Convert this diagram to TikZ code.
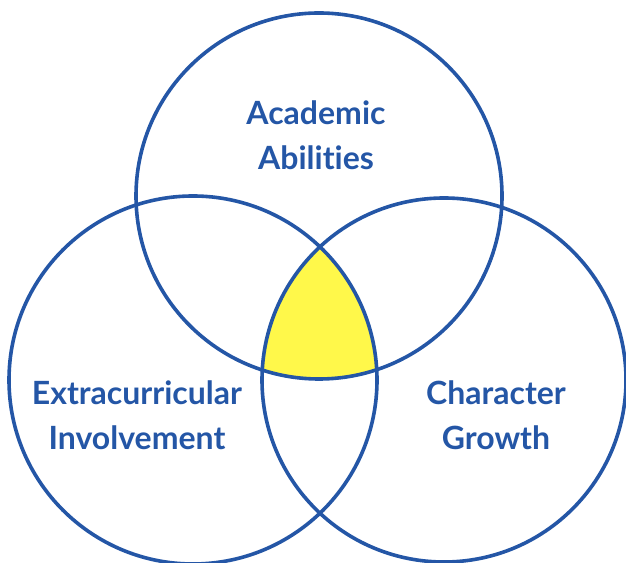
\documentclass[tikz,border=0pt]{standalone}
\usepackage{fontspec}
\setmainfont[Ligatures=NoCommon]{Lato}
\usepackage{tikz}
\definecolor{vennblue}{RGB}{36,86,166}
\definecolor{vennyellow}{RGB}{255,248,74}

\begin{document}
\begin{tikzpicture}[x=1pt,y=1pt,line width=3.6pt,
                    ring/.style={draw=vennblue},
                    lbl/.style={text=vennblue,align=center,font=\bfseries\fontsize{32}{45}\selectfont}]

  \useasboundingbox (0,0) rectangle (626,562);

  \coordinate (A) at (319,366);
  \coordinate (E) at (193,182);
  \coordinate (C) at (444,182);

  % middle region
  \begin{scope}
    \clip (E) circle (184);
    \clip (C) circle (182);
    \fill[vennyellow] (A) circle (183);
  \end{scope}

  \draw[ring] (A) circle (183);
  \draw[ring] (E) circle (184);
  \draw[ring] (C) circle (182);

  \node[lbl] (a) at (316,427) {Academic\\Abilities};
  \node[lbl] (e) at (137,147) {Extracurricular\\Involvement};
  \node[lbl] (c) at (496,147) {Character\\Growth};
\end{tikzpicture}
\end{document}
